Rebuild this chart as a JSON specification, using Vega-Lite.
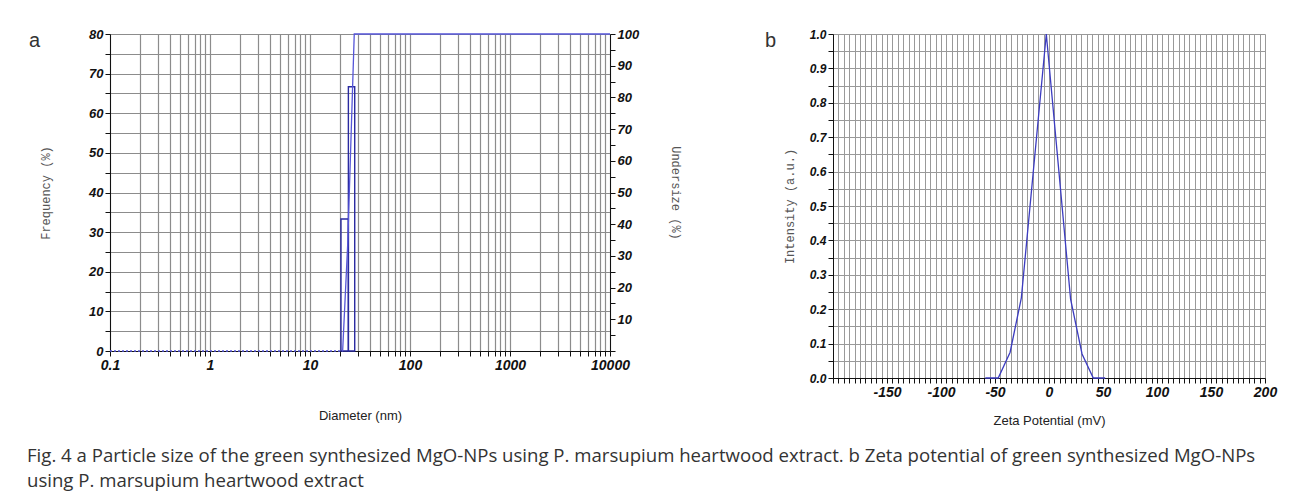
{
  "$schema": "https://vega.github.io/schema/vega-lite/v6.json",
  "background": "white",
  "padding": {"left": 27, "top": 28, "right": 5, "bottom": 5},
  "spacing": 83,
  "title": {
    "text": ["Fig. 4 a Particle size of the green synthesized MgO-NPs using P. marsupium heartwood extract. b Zeta potential of green synthesized MgO-NPs", "using P. marsupium heartwood extract"],
    "orient": "bottom",
    "anchor": "start",
    "frame": "bounds",
    "font": "Open Sans",
    "fontSize": 18.6,
    "fontWeight": "normal",
    "color": "#333",
    "lineHeight": 25,
    "baseline": "top",
    "offset": 20,
    "dx": -2
  },
  "config": {
    "view": {"stroke": null},
    "axis": {
      "labelFont": "Liberation Sans",
      "labelFontWeight": "bold",
      "labelFontStyle": "italic",
      "labelColor": "#111",
      "domainColor": "#111",
      "tickColor": "#111",
      "gridColor": "#8c8c8c",
      "labelOverlap": false,
      "labelFlush": false,
      "tickSize": 5
    }
  },
  "hconcat": [
    {
      "width": 500,
      "height": 317,
      "title": {"text": "a", "anchor": "start", "frame": "group", "offset": 0, "dx": -81, "dy": 39, "baseline": "alphabetic", "fontSize": 20, "fontWeight": "normal", "font": "Liberation Sans", "color": "#333"},
      "layer": [
        {
          "data": {"values": [{"d0": 20.4, "d1": 24.2, "freq": 33.3}, {"d0": 24.2, "d1": 28, "freq": 66.7}]},
          "mark": {"type": "rect", "fill": null, "stroke": "#2a2aa0", "strokeWidth": 1.4},
          "encoding": {
            "x": {"field": "d0", "type": "quantitative", "scale": {"type": "log", "domain": [0.1, 10000], "nice": false},
              "axis": {"title": "Diameter (nm)", "titleFont": "Liberation Sans", "titleFontWeight": "normal", "titleFontSize": 13, "titleColor": "#222", "titlePadding": 37, "labelFontSize": 14, "grid": true, "gridWidth": 1.2, "labelOverlap": false,
                "values": [0.1,0.2,0.3,0.4,0.5,0.6,0.7,0.8,0.9,1,2,3,4,5,6,7,8,9,10,20,30,40,50,60,70,80,90,100,200,300,400,500,600,700,800,900,1000,2000,3000,4000,5000,6000,7000,8000,9000,10000],
                "labelExpr": "datum.value == 0.1 ? '0.1' : (datum.value == 1 || datum.value == 10 || datum.value == 100 || datum.value == 1000 || datum.value == 10000) ? format(datum.value, 'd') : ''"}},
            "x2": {"field": "d1"},
            "y": {"field": "freq", "type": "quantitative", "scale": {"domain": [0, 80], "nice": false},
              "axis": {"title": "Frequency (%)", "titleFont": "Liberation Mono", "titleFontWeight": "normal", "titleFontSize": 12, "titleColor": "#555", "titlePadding": 36, "labelFontSize": 13, "grid": true, "gridWidth": 1.2, "labelOverlap": false,
                "values": [0,5,10,15,20,25,30,35,40,45,50,55,60,65,70,75,80],
                "labelExpr": "datum.value % 10 == 0 ? datum.label : ''"}},
            "y2": {"datum": 0}
          }
        },
        {
          "data": {"values": [
            {"d": 0.1, "under": 0, "part": "dotted"},
            {"d": 21.2, "under": 0, "part": "dotted"},
            {"d": 21.2, "under": 0, "part": "solid"},
            {"d": 23.8, "under": 33.3, "part": "solid"},
            {"d": 27.7, "under": 100, "part": "solid"},
            {"d": 10000, "under": 100, "part": "solid"}
          ]},
          "mark": {"type": "line", "color": "#5555d8", "strokeWidth": 1.3},
          "encoding": {
            "x": {"field": "d", "type": "quantitative"},
            "y": {"field": "under", "type": "quantitative", "scale": {"domain": [0, 100], "nice": false},
              "axis": {"title": "Undersize (%)", "orient": "right", "titleFont": "Liberation Mono", "titleFontWeight": "normal", "titleFontSize": 12, "titleColor": "#555", "titlePadding": 30, "labelFontSize": 13, "grid": false, "labelOverlap": false,
                "values": [0,5,10,15,20,25,30,35,40,45,50,55,60,65,70,75,80,85,90,95,100],
                "labelExpr": "datum.value % 10 == 0 && datum.value > 0 ? datum.label : ''"}},
            "strokeDash": {"field": "part", "type": "nominal", "scale": {"domain": ["dotted", "solid"], "range": [[2, 2], [1, 0]]}, "legend": null}
          }
        }
      ],
      "resolve": {"scale": {"y": "independent"}, "axis": {"y": "independent"}}
    },
    {
      "width": 432,
      "height": 344,
      "title": {"text": "b", "anchor": "start", "frame": "group", "offset": 0, "dx": -68, "dy": 39, "baseline": "alphabetic", "fontSize": 20, "fontWeight": "normal", "font": "Liberation Sans", "color": "#333"},
      "data": {"values": [
        {"zeta": -59, "intensity": 0},
        {"zeta": -47, "intensity": 0},
        {"zeta": -36, "intensity": 0.075},
        {"zeta": -25.6, "intensity": 0.233},
        {"zeta": -2.5, "intensity": 1.0},
        {"zeta": 20, "intensity": 0.229},
        {"zeta": 30.6, "intensity": 0.07},
        {"zeta": 41, "intensity": 0},
        {"zeta": 52, "intensity": 0}
      ]},
      "mark": {"type": "line", "color": "#3c3cc0", "strokeWidth": 1.3},
      "encoding": {
        "x": {"field": "zeta", "type": "quantitative", "scale": {"domain": [-200, 200], "nice": false},
          "axis": {"title": "Zeta Potential (mV)", "titleFont": "Liberation Sans", "titleFontWeight": "normal", "titleFontSize": 13, "titleColor": "#222", "titlePadding": 15, "labelFontSize": 14, "grid": true, "gridWidth": 1, "gridColor": "#999", "labelOverlap": false,
            "values": [-200,-195,-190,-185,-180,-175,-170,-165,-160,-155,-150,-145,-140,-135,-130,-125,-120,-115,-110,-105,-100,-95,-90,-85,-80,-75,-70,-65,-60,-55,-50,-45,-40,-35,-30,-25,-20,-15,-10,-5,0,5,10,15,20,25,30,35,40,45,50,55,60,65,70,75,80,85,90,95,100,105,110,115,120,125,130,135,140,145,150,155,160,165,170,175,180,185,190,195,200],
            "labelExpr": "datum.value % 50 == 0 && datum.value > -200 ? replace(format(datum.value, 'd'), '\u2212', '-') : ''"}},
        "y": {"field": "intensity", "type": "quantitative", "scale": {"domain": [0, 1], "nice": false},
          "axis": {"title": "Intensity (a.u.)", "titleFont": "Liberation Mono", "titleFontWeight": "normal", "titleFontSize": 12, "titleColor": "#555", "titlePadding": 13, "labelFontSize": 12, "grid": true, "gridWidth": 1, "gridColor": "#999", "labelOverlap": false,
            "values": [0,0.05,0.1,0.15,0.2,0.25,0.3,0.35,0.4,0.45,0.5,0.55,0.6,0.65,0.7,0.75,0.8,0.85,0.9,0.95,1],
            "labelExpr": "round(datum.value * 20) % 2 == 0 ? format(datum.value, '.1f') : ''"}}
      }
    }
  ]
}
